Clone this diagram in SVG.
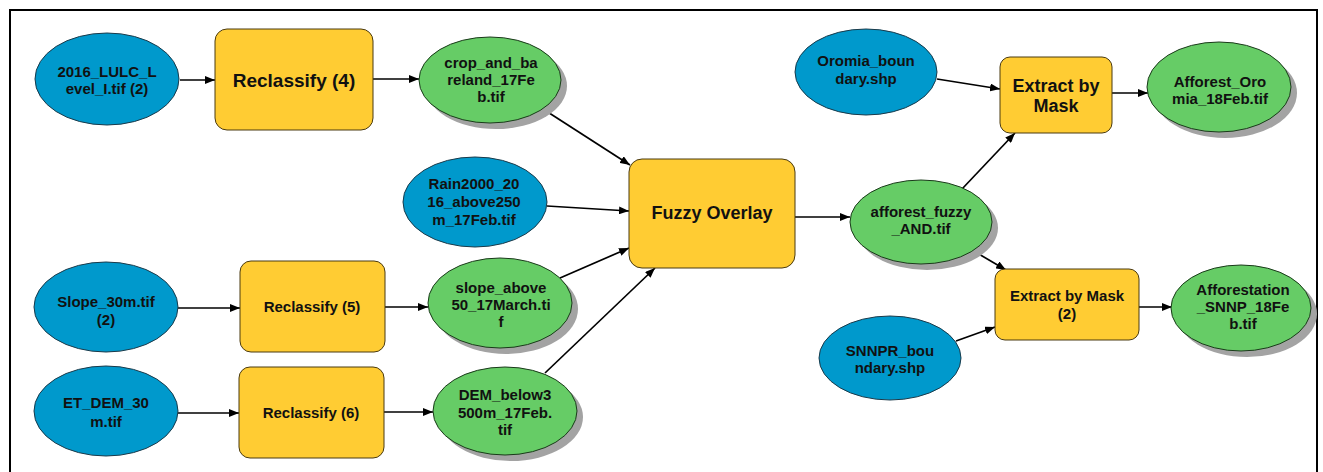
<svg xmlns="http://www.w3.org/2000/svg" width="1323" height="472" viewBox="0 0 1323 472">
<style>
.bg{fill:#ffffff}
.frame{fill:none;stroke:#000;stroke-width:2}
.in{fill:#0099cc;stroke:#1a3a4a;stroke-width:1}
.out{fill:#66cc66;stroke:#1a3a1a;stroke-width:1}
.sh{fill:#a3a3a3}
.tool{fill:#ffcc33;stroke:#4a3a10;stroke-width:1}
.t{font-family:'Liberation Sans',Arial,sans-serif;font-weight:bold;font-size:15px;text-anchor:middle;fill:#111}
.tl{font-size:18px}
.tx{font-size:19px}
.c{fill:none;stroke:#000;stroke-width:1.7;marker-end:url(#ah)}
</style>
<defs>
<marker id="ah" markerUnits="userSpaceOnUse" markerWidth="10" markerHeight="8" refX="10" refY="4" orient="auto">
<path d="M0,0 L10,4 L0,8 z" fill="#000"/>
</marker>
</defs>
<rect class="bg" x="0" y="0" width="1323" height="472"/>
<rect class="frame" x="10" y="10" width="1307" height="475"/>

<g id="connectors">
<line class="c" x1="180" y1="80" x2="215" y2="80"/>
<line class="c" x1="373" y1="79" x2="419" y2="79"/>
<line class="c" x1="543" y1="109" x2="630" y2="165"/>
<line class="c" x1="547" y1="206" x2="629" y2="211"/>
<line class="c" x1="560" y1="278" x2="629" y2="248"/>
<line class="c" x1="545" y1="373" x2="655" y2="268"/>
<line class="c" x1="178" y1="308" x2="240" y2="308"/>
<line class="c" x1="385" y1="307" x2="428" y2="307"/>
<line class="c" x1="178" y1="413" x2="239" y2="413"/>
<line class="c" x1="384" y1="412" x2="433" y2="412"/>
<line class="c" x1="795" y1="217" x2="850" y2="217"/>
<line class="c" x1="962" y1="189" x2="1015" y2="133"/>
<line class="c" x1="937" y1="79" x2="1000" y2="89"/>
<line class="c" x1="1112" y1="93" x2="1148" y2="93"/>
<line class="c" x1="972" y1="250" x2="1006" y2="270"/>
<line class="c" x1="956" y1="341" x2="995" y2="327"/>
<line class="c" x1="1139" y1="307" x2="1172" y2="307"/>
</g>

<g id="lulc">
<ellipse class="in" cx="107" cy="79" rx="72" ry="46"/>
<text class="t" x="107" y="77">2016_LULC_L</text>
<text class="t" x="107" y="94">evel_I.tif (2)</text>
</g>
<g id="reclass4">
<rect class="tool" x="215" y="29" width="158" height="101" rx="12"/>
<text class="t tx" x="294" y="87">Reclassify (4)</text>
</g>
<g id="crop">
<ellipse class="sh" cx="496" cy="86" rx="71" ry="43"/>
<ellipse class="out" cx="490" cy="80" rx="71" ry="43"/>
<text class="t" x="491" y="68">crop_and_ba</text>
<text class="t" x="491" y="85">reland_17Fe</text>
<text class="t" x="491" y="102">b.tif</text>
</g>
<g id="rain">
<ellipse class="in" cx="475" cy="202" rx="72" ry="45"/>
<text class="t" x="474" y="189">Rain2000_20</text>
<text class="t" x="474" y="207">16_above250</text>
<text class="t" x="474" y="225">m_17Feb.tif</text>
</g>
<g id="fuzzy">
<rect class="tool" x="629" y="159" width="166" height="109" rx="13"/>
<text class="t tl" x="712" y="219">Fuzzy Overlay</text>
</g>
<g id="slope30">
<ellipse class="in" cx="106" cy="307" rx="72" ry="45"/>
<text class="t" x="106" y="307">Slope_30m.tif</text>
<text class="t" x="106" y="325">(2)</text>
</g>
<g id="reclass5">
<rect class="tool" x="240" y="261" width="145" height="91" rx="11"/>
<text class="t" x="312" y="312">Reclassify (5)</text>
</g>
<g id="slopeabove">
<ellipse class="sh" cx="506" cy="309" rx="72" ry="45"/>
<ellipse class="out" cx="500" cy="303" rx="72" ry="45"/>
<text class="t" x="501" y="293">slope_above</text>
<text class="t" x="501" y="310">50_17March.ti</text>
<text class="t" x="501" y="327">f</text>
</g>
<g id="etdem">
<ellipse class="in" cx="106" cy="411" rx="72" ry="45"/>
<text class="t" x="106" y="408">ET_DEM_30</text>
<text class="t" x="106" y="427">m.tif</text>
</g>
<g id="reclass6">
<rect class="tool" x="239" y="367" width="145" height="91" rx="11"/>
<text class="t" x="311" y="418">Reclassify (6)</text>
</g>
<g id="dembelow">
<ellipse class="sh" cx="511" cy="417" rx="72" ry="44"/>
<ellipse class="out" cx="505" cy="411" rx="72" ry="44"/>
<text class="t" x="505" y="400">DEM_below3</text>
<text class="t" x="505" y="418">500m_17Feb.</text>
<text class="t" x="505" y="435">tif</text>
</g>
<g id="oromia">
<ellipse class="in" cx="866" cy="72" rx="71" ry="43"/>
<text class="t" x="866" y="66">Oromia_boun</text>
<text class="t" x="866" y="84">dary.shp</text>
</g>
<g id="extract1">
<rect class="tool" x="1000" y="57" width="112" height="76" rx="10"/>
<text class="t tl" x="1056" y="92">Extract by</text>
<text class="t tl" x="1056" y="112">Mask</text>
</g>
<g id="affor_oromia">
<ellipse class="sh" cx="1225" cy="93" rx="72" ry="45"/>
<ellipse class="out" cx="1219" cy="87" rx="72" ry="45"/>
<text class="t" x="1220" y="87">Afforest_Oro</text>
<text class="t" x="1220" y="104">mia_18Feb.tif</text>
</g>
<g id="afforest_fuzzy">
<ellipse class="sh" cx="927" cy="228" rx="71" ry="42"/>
<ellipse class="out" cx="921" cy="222" rx="71" ry="42"/>
<text class="t" x="921" y="217">afforest_fuzzy</text>
<text class="t" x="921" y="234">_AND.tif</text>
</g>
<g id="extract2">
<rect class="tool" x="995" y="269" width="144" height="71" rx="10"/>
<text class="t" x="1067" y="301">Extract by Mask</text>
<text class="t" x="1067" y="319">(2)</text>
</g>
<g id="snnpr">
<ellipse class="in" cx="890" cy="358" rx="71" ry="42"/>
<text class="t" x="890" y="356">SNNPR_bou</text>
<text class="t" x="890" y="373">ndary.shp</text>
</g>
<g id="afforestation_snnp">
<ellipse class="sh" cx="1247" cy="314" rx="70" ry="43"/>
<ellipse class="out" cx="1241" cy="308" rx="70" ry="43"/>
<text class="t" x="1243" y="295">Afforestation</text>
<text class="t" x="1243" y="312">_SNNP_18Fe</text>
<text class="t" x="1243" y="329">b.tif</text>
</g>
</svg>
